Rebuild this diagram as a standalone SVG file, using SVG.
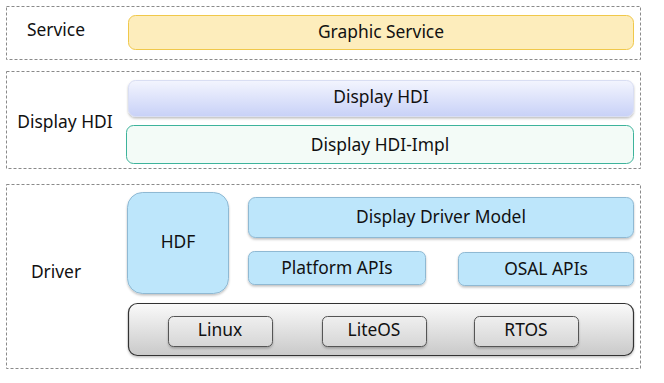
<svg xmlns="http://www.w3.org/2000/svg" width="664" height="383" viewBox="0 0 664 383">
<defs>
<linearGradient id="gHdi" x1="0" y1="0" x2="0" y2="1">
<stop offset="0" stop-color="#F3F5FE"/>
<stop offset="1" stop-color="#C8D1F7"/>
</linearGradient>
<linearGradient id="gOs" x1="0" y1="0" x2="0" y2="1">
<stop offset="0" stop-color="#FAFAFA"/>
<stop offset="1" stop-color="#C9C9C9"/>
</linearGradient>
<linearGradient id="gOsItem" x1="0" y1="0" x2="0" y2="1">
<stop offset="0" stop-color="#EFEFEF"/>
<stop offset="1" stop-color="#D6D6D6"/>
</linearGradient>
<filter id="sh" x="-10%" y="-20%" width="120%" height="150%">
<feDropShadow dx="0" dy="1.5" stdDeviation="1.2" flood-color="#000" flood-opacity="0.25"/>
</filter>
</defs>
<style>
.layer{fill:#fff;stroke:#8A8A8A;stroke-width:1;stroke-dasharray:3 2}
.t{font-family:"Noto Sans","Open Sans","Liberation Sans",sans-serif;font-size:17.4px;fill:#111;text-anchor:middle;dominant-baseline:central}
.blue{fill:#BDE6FB;stroke:#8FB9D3;stroke-width:1;filter:url(#sh)}
.os{fill:url(#gOsItem);stroke:#555;stroke-width:1;filter:url(#sh)}
</style>
<rect width="664" height="383" fill="#fff"/>
<g id="layers">
<rect class="layer" x="6.5" y="6.5" width="634" height="53"/>
<rect class="layer" x="6.5" y="71.5" width="634" height="97"/>
<rect class="layer" x="6.5" y="184.5" width="634" height="184"/>
</g>
<g id="labels">
<text class="t" x="56" y="29">Service</text>
<text class="t" x="65" y="121">Display HDI</text>
<text class="t" x="56" y="271">Driver</text>
</g>
<g id="graphic-service">
<rect x="128.5" y="15.5" width="505" height="34" rx="7" fill="#FDEDBC" stroke="#F0C84A" stroke-width="1"/>
<text class="t" x="381" y="31">Graphic Service</text>
</g>
<g id="display-hdi">
<rect x="128.5" y="80.5" width="505" height="36" rx="7" fill="url(#gHdi)" stroke="#D9DEF3" stroke-width="1" filter="url(#sh)"/>
<text class="t" x="381" y="96">Display HDI</text>
</g>
<g id="display-hdi-impl">
<rect x="126.5" y="125.5" width="507" height="38" rx="7" fill="#F3FBF7" stroke="#3DB39B" stroke-width="1"/>
<text class="t" x="380" y="144">Display HDI-Impl</text>
</g>
<g id="hdf">
<rect class="blue" x="127.5" y="192.5" width="101" height="101" rx="15"/>
<text class="t" x="178" y="241">HDF</text>
</g>
<g id="display-driver-model">
<rect class="blue" x="248.5" y="197.5" width="385" height="40" rx="7"/>
<text class="t" x="441" y="216">Display Driver Model</text>
</g>
<g id="platform-apis">
<rect class="blue" x="248.5" y="251.5" width="177" height="33" rx="6"/>
<text class="t" x="337" y="267">Platform APIs</text>
</g>
<g id="osal-apis">
<rect class="blue" x="458.5" y="252.5" width="175" height="33" rx="6"/>
<text class="t" x="546" y="268">OSAL APIs</text>
</g>
<g id="os-bar">
<rect x="128.5" y="303.5" width="505" height="52" rx="9" fill="url(#gOs)" stroke="#333" stroke-width="1.2" filter="url(#sh)"/>
</g>
<g id="linux">
<rect class="os" x="168.5" y="316.5" width="104" height="30" rx="5"/>
<text class="t" x="220" y="329">Linux</text>
</g>
<g id="liteos">
<rect class="os" x="322.5" y="316.5" width="104" height="30" rx="5"/>
<text class="t" x="374" y="329">LiteOS</text>
</g>
<g id="rtos">
<rect class="os" x="474.5" y="316.5" width="104" height="30" rx="5"/>
<text class="t" x="526" y="329">RTOS</text>
</g>
<g id="connectors"></g>
</svg>
